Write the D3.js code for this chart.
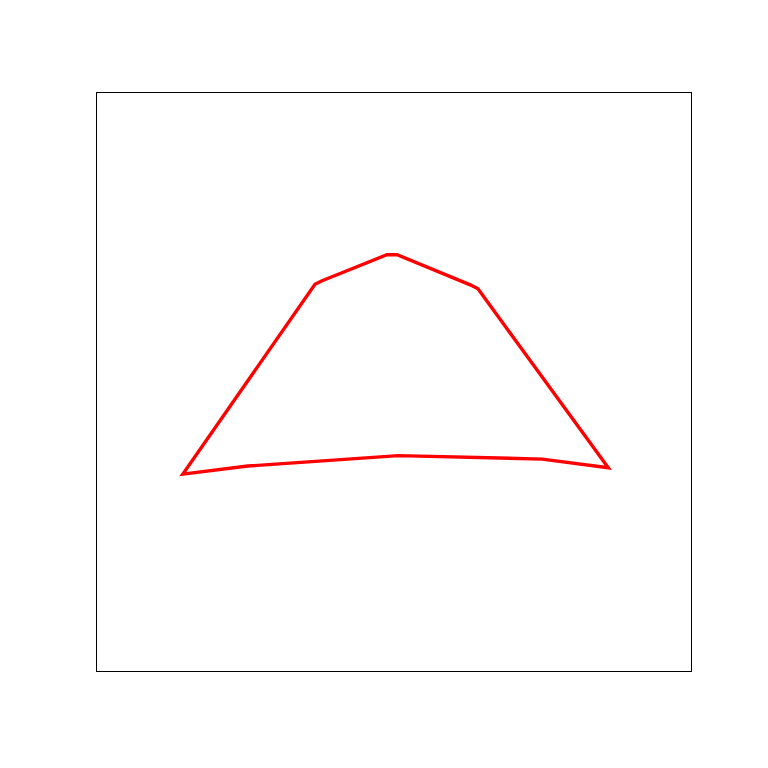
<!DOCTYPE html>
<html><head><meta charset="utf-8">
<script src="https://cdn.jsdelivr.net/npm/d3@7"></script>
<style>body{margin:0;background:#fff}</style>
</head><body>
<svg id="c" width="768" height="768"></svg>
<script>
const xs = [14.6, 25.5, 50.8, 75.0, 86.1, 64.2, 62.9, 50.6, 48.9, 38.0, 36.8];
const ys = [34.0, 35.4, 37.2, 36.6, 35.1, 66.0, 66.7, 71.9, 71.9, 67.4, 66.8];

const svg = d3.select("#c");
const x = d3.scaleLinear().domain([0,100]).range([96,691]);
const y = d3.scaleLinear().domain([0,100]).range([671,92]);

svg.append("rect").attr("x",96.5).attr("y",92.5).attr("width",595).attr("height",579)
  .attr("fill","none").attr("stroke","#000").attr("stroke-width",1);

const pts = xs.map((d,i)=>[d, ys[i]]);
const line = d3.line().x(d=>x(d[0])).y(d=>y(d[1])).curve(d3.curveLinearClosed);
svg.append("path").attr("d", line(pts)).attr("fill","none")
  .attr("stroke","#ff0000").attr("stroke-width",3.4).attr("stroke-linejoin","miter");
</script>
</body></html>
